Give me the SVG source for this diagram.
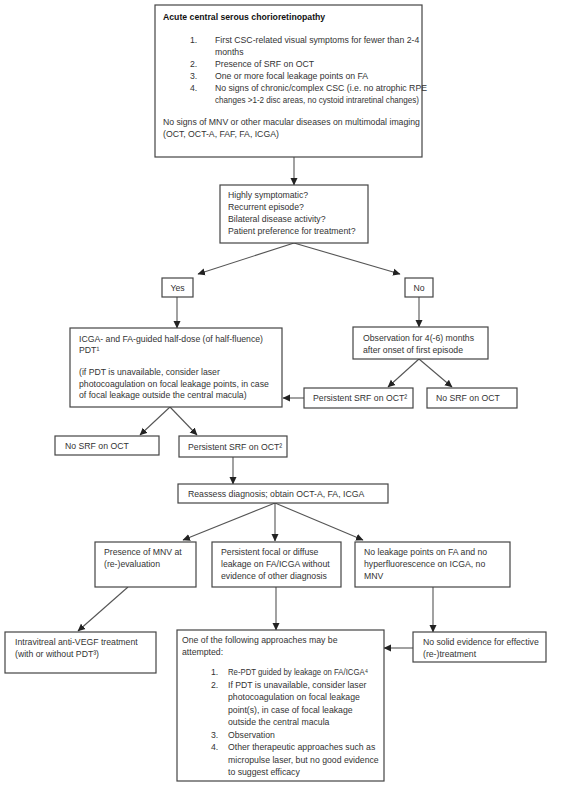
<svg xmlns="http://www.w3.org/2000/svg" width="568" height="791" viewBox="0 0 568 791">
<defs>
<marker id="ah" markerWidth="8" markerHeight="8" refX="7" refY="4" orient="auto" markerUnits="userSpaceOnUse">
<path d="M0,0.5 L7.5,4 L0,7.5 Z" fill="#222"/>
</marker>
<style>
.box{fill:#fff;stroke:#444;stroke-width:1.2}
.t{font-family:"Liberation Sans",Arial,sans-serif;font-size:8.7px;fill:#333}
.b{font-weight:bold;fill:#111}
.c{fill:none;stroke:#555;stroke-width:1.1;marker-end:url(#ah)}
</style>
</defs>
<rect width="568" height="791" fill="#fff"/>
<g id="connectors">
<line class="c" x1="294" y1="157" x2="294" y2="185"/>
<line class="c" x1="294" y1="243" x2="198" y2="274"/>
<line class="c" x1="294" y1="243" x2="400" y2="274"/>
<line class="c" x1="177" y1="297" x2="177" y2="328"/>
<line class="c" x1="419" y1="297" x2="419" y2="327"/>
<line class="c" x1="419" y1="359" x2="388" y2="387"/>
<line class="c" x1="419" y1="359" x2="452" y2="387"/>
<line class="c" x1="304" y1="398" x2="283" y2="398"/>
<line class="c" x1="170" y1="407" x2="140" y2="435"/>
<line class="c" x1="170" y1="407" x2="197" y2="435"/>
<line class="c" x1="233" y1="457" x2="233" y2="484"/>
<line class="c" x1="275" y1="503" x2="183" y2="540"/>
<line class="c" x1="275" y1="503" x2="275" y2="541"/>
<line class="c" x1="275" y1="503" x2="363" y2="540"/>
<line class="c" x1="128" y1="587" x2="78" y2="631"/>
<line class="c" x1="276" y1="587" x2="276" y2="630"/>
<line class="c" x1="433" y1="587" x2="433" y2="632"/>
<line class="c" x1="413" y1="648" x2="384" y2="648"/>
</g>
<g id="acute">
<rect class="box" x="155" y="5" width="267" height="152"/>
<text class="t b" x="163" y="20">Acute central serous chorioretinopathy</text>
<text class="t" x="190" y="43">1.</text>
<text class="t" x="215" y="43">First CSC-related visual symptoms for fewer than 2-4</text>
<text class="t" x="215" y="55">months</text>
<text class="t" x="190" y="67">2.</text>
<text class="t" x="215" y="67">Presence of SRF on OCT</text>
<text class="t" x="190" y="79">3.</text>
<text class="t" x="215" y="79">One or more focal leakage points on FA</text>
<text class="t" x="190" y="91">4.</text>
<text class="t" x="215" y="91">No signs of chronic/complex CSC (i.e. no atrophic RPE</text>
<text class="t" x="215" y="103" textLength="204" lengthAdjust="spacingAndGlyphs">changes &gt;1-2 disc areas, no cystoid intraretinal changes)</text>
<text class="t" x="163" y="125">No signs of MNV or other macular diseases on multimodal imaging</text>
<text class="t" x="163" y="137">(OCT, OCT-A, FAF, FA, ICGA)</text>
</g>
<g id="question">
<rect class="box" x="220" y="185" width="148" height="58"/>
<text class="t" x="228" y="198">Highly symptomatic?</text>
<text class="t" x="228" y="210">Recurrent episode?</text>
<text class="t" x="228" y="222">Bilateral disease activity?</text>
<text class="t" x="228" y="234">Patient preference for treatment?</text>
</g>
<g id="yes">
<rect class="box" x="162" y="278" width="31" height="19"/>
<text class="t" x="177.5" y="291" text-anchor="middle">Yes</text>
</g>
<g id="no">
<rect class="box" x="405" y="278" width="28" height="19"/>
<text class="t" x="419" y="291" text-anchor="middle">No</text>
</g>
<g id="pdt">
<rect class="box" x="70" y="328" width="212" height="79"/>
<text class="t" x="79" y="342">ICGA- and FA-guided half-dose (of half-fluence)</text>
<text class="t" x="79" y="353">PDT¹</text>
<text class="t" x="79" y="375">(if PDT is unavailable, consider laser</text>
<text class="t" x="79" y="387">photocoagulation on focal leakage points, in case</text>
<text class="t" x="79" y="398">of focal leakage outside the central macula)</text>
</g>
<g id="observation">
<rect class="box" x="353" y="327" width="135" height="32"/>
<text class="t" x="363" y="341">Observation for 4(-6) months</text>
<text class="t" x="363" y="353">after onset of first episode</text>
</g>
<g id="persist-right">
<rect class="box" x="304" y="388" width="109" height="20"/>
<text class="t" x="313" y="401">Persistent SRF on OCT²</text>
</g>
<g id="nosrf-right">
<rect class="box" x="427" y="388" width="90" height="20"/>
<text class="t" x="436" y="401">No SRF on OCT</text>
</g>
<g id="nosrf-left">
<rect class="box" x="55" y="436" width="104" height="19"/>
<text class="t" x="65" y="449">No SRF on OCT</text>
</g>
<g id="persist-left">
<rect class="box" x="179" y="436" width="108" height="21"/>
<text class="t" x="188" y="450">Persistent SRF on OCT²</text>
</g>
<g id="reassess">
<rect class="box" x="178" y="484" width="210" height="19"/>
<text class="t" x="188" y="497">Reassess diagnosis; obtain OCT-A, FA, ICGA</text>
</g>
<g id="mnv">
<rect class="box" x="95" y="542" width="101" height="45"/>
<text class="t" x="104" y="555">Presence of MNV at</text>
<text class="t" x="104" y="567">(re-)evaluation</text>
</g>
<g id="persistent-leak">
<rect class="box" x="212" y="542" width="129" height="45"/>
<text class="t" x="221" y="555">Persistent focal or diffuse</text>
<text class="t" x="221" y="567">leakage on FA/ICGA without</text>
<text class="t" x="221" y="579">evidence of other diagnosis</text>
</g>
<g id="no-leak">
<rect class="box" x="355" y="542" width="155" height="45"/>
<text class="t" x="364" y="555">No leakage points on FA and no</text>
<text class="t" x="364" y="567">hyperfluorescence on ICGA, no</text>
<text class="t" x="364" y="579">MNV</text>
</g>
<g id="antivegf">
<rect class="box" x="5" y="632" width="151" height="41"/>
<text class="t" x="15" y="645">Intravitreal anti-VEGF treatment</text>
<text class="t" x="15" y="657">(with or without PDT³)</text>
</g>
<g id="approaches">
<rect class="box" x="177" y="630" width="207" height="151"/>
<text class="t" x="182" y="643">One of the following approaches may be</text>
<text class="t" x="182" y="655">attempted:</text>
<text class="t" x="211" y="675">1.</text>
<text class="t" x="228" y="675" textLength="140" lengthAdjust="spacingAndGlyphs">Re-PDT guided by leakage on FA/ICGA⁴</text>
<text class="t" x="211" y="688">2.</text>
<text class="t" x="228" y="688">If PDT is unavailable, consider laser</text>
<text class="t" x="228" y="700">photocoagulation on focal leakage</text>
<text class="t" x="228" y="713">point(s), in case of focal leakage</text>
<text class="t" x="228" y="725">outside the central macula</text>
<text class="t" x="211" y="738">3.</text>
<text class="t" x="228" y="738">Observation</text>
<text class="t" x="211" y="750">4.</text>
<text class="t" x="228" y="750">Other therapeutic approaches such as</text>
<text class="t" x="228" y="763">micropulse laser, but no good evidence</text>
<text class="t" x="228" y="775">to suggest efficacy</text>
</g>
<g id="nosolid">
<rect class="box" x="413" y="632" width="133" height="30"/>
<text class="t" x="423" y="645">No solid evidence for effective</text>
<text class="t" x="423" y="657">(re-)treatment</text>
</g>
</svg>
